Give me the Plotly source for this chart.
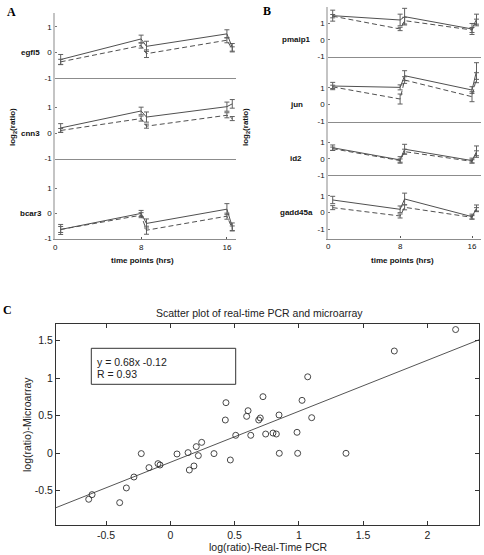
import plotly.graph_objects as go

W, H = 484, 555

# ---------------- data: panels A and B (time courses) ----------------
times = [0.5, 8, 8.5, 16, 16.5]
time_ticks = [0, 8, 16]
time_tick_text = ["0", "8", "16"]
ratio_ticks = [-1, 0, 1]
ratio_tick_text = ["-1", "0", "1"]

genes_A = ["egfl5", "cnn3", "bcar3"]
genes_B = ["pmaip1", "jun", "id2", "gadd45a"]

egfl5_solid = [-0.28, 0.53, 0.24, 0.73, 0.20]
egfl5_solid_err = [0.20, 0.15, 0.20, 0.16, 0.15]
egfl5_dash = [-0.37, 0.27, -0.05, 0.48, 0.12]
egfl5_dash_err = [0.10, 0.10, 0.15, 0.10, 0.10]

cnn3_solid = [0.20, 0.87, 0.63, 1.04, 1.15]
cnn3_solid_err = [0.17, 0.15, 0.20, 0.18, 0.17]
cnn3_dash = [0.10, 0.57, 0.27, 0.70, 0.57]
cnn3_dash_err = [0.08, 0.10, 0.08, 0.10, 0.08]

bcar3_solid = [-0.64, 0.00, -0.40, 0.17, -0.53]
bcar3_solid_err = [0.20, 0.12, 0.18, 0.22, 0.15]
bcar3_dash = [-0.64, -0.07, -0.67, -0.11, -0.60]
bcar3_dash_err = [0.12, 0.10, 0.16, 0.12, 0.10]

pmaip1_solid = [1.46, 1.20, 1.40, 0.66, 1.25]
pmaip1_solid_err = [0.33, 0.35, 0.50, 0.33, 0.30]
pmaip1_dash = [1.43, 0.66, 1.16, 0.60, 1.05]
pmaip1_dash_err = [0.10, 0.10, 0.20, 0.15, 0.20]

jun_solid = [1.10, 1.02, 1.72, 0.86, 2.00]
jun_solid_err = [0.22, 0.15, 0.30, 0.20, 0.50]
jun_dash = [1.05, 0.32, 1.46, 0.46, 1.60]
jun_dash_err = [0.10, 0.30, 0.20, 0.30, 0.30]

id2_solid = [0.69, -0.06, 0.60, -0.10, 0.45]
id2_solid_err = [0.17, 0.20, 0.30, 0.15, 0.35]
id2_dash = [0.63, -0.10, 0.45, -0.15, 0.35]
id2_dash_err = [0.10, 0.10, 0.15, 0.10, 0.15]

gadd45a_solid = [0.76, 0.20, 0.82, -0.24, 0.26]
gadd45a_solid_err = [0.22, 0.20, 0.35, 0.15, 0.20]
gadd45a_dash = [0.30, -0.20, 0.32, -0.28, 0.20]
gadd45a_dash_err = [0.12, 0.12, 0.15, 0.10, 0.10]

# ---------------- data: panel C (scatter) ----------------
pcr_x = [2.22, 1.743, 1.069, 0.433, 0.721, 1.025, 0.605, 0.428, 0.594, 0.688,
         0.70, 0.846, 1.10, 0.509, 0.626, 0.742, 0.799, 0.825, 0.986, 0.244,
         0.202, 0.138, 0.052, 0.218, 0.34, -0.226, 0.848, 0.991, 1.367, 0.467,
         -0.096, -0.08, -0.166, 0.148, 0.184, -0.283, -0.342, -0.609, -0.635, -0.394]
array_y = [1.65, 1.364, 1.02, 0.675, 0.755, 0.706, 0.568, 0.444, 0.493, 0.444,
           0.471, 0.511, 0.475, 0.24, 0.24, 0.257, 0.27, 0.257, 0.28, 0.146,
           0.089, 0.009, -0.009, -0.031, -0.004, -0.004, 0.0, 0.0, 0.0, -0.089,
           -0.138, -0.156, -0.191, -0.223, -0.169, -0.316, -0.462, -0.551, -0.613, -0.658]
fit_slope = 0.68
fit_intercept = -0.12
fit_r = 0.93
c_x_ticks = [-0.5, 0, 0.5, 1, 1.5, 2]
c_x_tick_text = ["-0.5", "0", "0.5", "1", "1.5", "2"]
c_y_ticks = [-0.5, 0, 0.5, 1, 1.5]
c_y_tick_text = ["-0.5", "0", "0.5", "1", "1.5"]

series = {
    "egfl5": (egfl5_solid, egfl5_solid_err, egfl5_dash, egfl5_dash_err),
    "cnn3": (cnn3_solid, cnn3_solid_err, cnn3_dash, cnn3_dash_err),
    "bcar3": (bcar3_solid, bcar3_solid_err, bcar3_dash, bcar3_dash_err),
    "pmaip1": (pmaip1_solid, pmaip1_solid_err, pmaip1_dash, pmaip1_dash_err),
    "jun": (jun_solid, jun_solid_err, jun_dash, jun_dash_err),
    "id2": (id2_solid, id2_solid_err, id2_dash, id2_dash_err),
    "gadd45a": (gadd45a_solid, gadd45a_solid_err, gadd45a_dash, gadd45a_dash_err),
}

# ---------------- layout helpers (pixel -> paper) ----------------
def px(x):
    return x / W

def py(y):
    return 1 - y / H

SANS = "Liberation Sans, Arial, Helvetica, sans-serif"
SERIF = "Liberation Serif, Times New Roman, serif"
LINE_C = "#505050"
ERR_C = "#606060"

# subplot geometry: (gene, x-domain px, y-domain px (top,bottom), y-range)
panelA_x = (55.3, 235.5, [0, 16.8])
panelB_x = (328.2, 481.0, [0, 17.0])
subplots = [
    ("egfl5", panelA_x, (13.0, 78.0), [-1.005, 1.55]),
    ("cnn3", panelA_x, (78.0, 158.5), [-1.005, 2.17]),
    ("bcar3", panelA_x, (158.5, 239.0), [-1.02, 2.19]),
    ("pmaip1", panelB_x, (7.0, 56.7), [-1.005, 1.98]),
    ("jun", panelB_x, (56.7, 121.7), [-1.04, 2.86]),
    ("id2", panelB_x, (121.7, 175.3), [-1.005, 2.29]),
    ("gadd45a", panelB_x, (175.3, 238.5), [-1.55, 2.24]),
]
bottom_genes = {"bcar3", "gadd45a"}

fig = go.Figure()
layout = {}
annotations = []

for i, (gene, (x0, x1, xr), (ytop, ybot), yr) in enumerate(subplots, start=1):
    xa = "x" if i == 1 else f"x{i}"
    ya = "y" if i == 1 else f"y{i}"
    solid, solid_err, dash, dash_err = series[gene]
    fig.add_trace(go.Scatter(
        x=times, y=solid, xaxis=xa, yaxis=ya, mode="lines",
        line=dict(color=LINE_C, width=1),
        error_y=dict(type="data", array=solid_err, visible=True,
                     color=ERR_C, thickness=1, width=2.5),
        showlegend=False, hoverinfo="skip"))
    fig.add_trace(go.Scatter(
        x=times, y=dash, xaxis=xa, yaxis=ya, mode="lines",
        line=dict(color=LINE_C, width=1, dash="5px,3px"),
        error_y=dict(type="data", array=dash_err, visible=True,
                     color=ERR_C, thickness=1, width=2.5),
        showlegend=False, hoverinfo="skip"))
    is_bottom = gene in bottom_genes
    xaxis = dict(
        domain=[px(x0), px(x1)], range=xr, anchor=ya, automargin=False,
        showline=True, linecolor="#8c8c8c", linewidth=1.3,
        showgrid=False, zeroline=False,
        tickfont=dict(family=SANS, size=8, color="#111"),
    )
    if is_bottom:
        xaxis.update(tickvals=time_ticks, ticktext=time_tick_text,
                     ticks="inside", ticklen=2, tickcolor="#555",
                     showticklabels=True)
    else:
        xaxis.update(showticklabels=False, ticks="")
    layout["xaxis" if i == 1 else f"xaxis{i}"] = xaxis
    layout["yaxis" if i == 1 else f"yaxis{i}"] = dict(
        domain=[py(ybot), py(ytop)], range=yr, anchor=xa, automargin=False,
        showline=True, linecolor="#c4c4c4", linewidth=2,
        showgrid=False, zeroline=False,
        tickvals=ratio_ticks, ticktext=ratio_tick_text,
        ticks="inside", ticklen=2, tickcolor="#777",
        tickfont=dict(family=SANS, size=8, color="#111"),
    )
    # gene label at the zero level
    y_zero = py(ybot) + (0 - yr[0]) / (yr[1] - yr[0]) * (py(ytop) - py(ybot))
    lab_x = 30.5 if x0 < 200 else 296
    annotations.append(dict(
        x=px(lab_x), y=y_zero, xref="paper", yref="paper", text=f"<b>{gene}</b>",
        showarrow=False, xanchor="center", yanchor="middle",
        font=dict(family=SANS, size=8, color="#111")))

# ---------------- panel C ----------------
cx = "x8"
cy = "y8"
c_xr = [-0.8895, 2.402]
c_yr = [-0.956, 1.724]
fig.add_trace(go.Scatter(
    x=c_xr, y=[fit_slope * v + fit_intercept for v in c_xr],
    xaxis=cx, yaxis=cy, mode="lines",
    line=dict(color="#555", width=1), showlegend=False, hoverinfo="skip"))
fig.add_trace(go.Scatter(
    x=pcr_x, y=array_y, xaxis=cx, yaxis=cy, mode="markers",
    marker=dict(symbol="circle-open", size=6, color="#333",
                line=dict(width=0.9, color="#333")),
    showlegend=False, hoverinfo="skip"))
layout["xaxis8"] = dict(
    domain=[px(56), px(479)], range=c_xr, anchor=cy, automargin=False,
    showline=True, mirror="ticks", linecolor="#333", linewidth=1,
    ticks="inside", ticklen=4, tickcolor="#333",
    tickvals=c_x_ticks, ticktext=c_x_tick_text,
    showgrid=False, zeroline=False,
    tickfont=dict(family=SANS, size=10.5, color="#222"))
layout["yaxis8"] = dict(
    domain=[py(525), py(324)], range=c_yr, anchor=cx, automargin=False,
    showline=True, mirror="ticks", linecolor="#333", linewidth=1,
    ticks="inside", ticklen=4, tickcolor="#333",
    tickvals=c_y_ticks, ticktext=c_y_tick_text,
    showgrid=False, zeroline=False,
    tickfont=dict(family=SANS, size=10.5, color="#222"))

# text box
shapes = [dict(type="rect", xref="paper", yref="paper",
               x0=px(91.3), x1=px(235.7), y0=py(384.3), y1=py(348.3),
               line=dict(color="#333", width=1), fillcolor="white", layer="above")]
annotations += [
    dict(x=px(95), y=py(361.5), xref="paper", yref="paper",
         text=f"y = {fit_slope}x {fit_intercept}", showarrow=False,
         xanchor="left", yanchor="middle",
         font=dict(family=SANS, size=10.5, color="#222")),
    dict(x=px(95), y=py(373.5), xref="paper", yref="paper",
         text=f"R = {fit_r}", showarrow=False,
         xanchor="left", yanchor="middle",
         font=dict(family=SANS, size=10.5, color="#222")),
    dict(x=px(259), y=py(313), xref="paper", yref="paper",
         text="Scatter plot of real-time PCR and microarray", showarrow=False,
         xanchor="center", yanchor="middle",
         font=dict(family=SANS, size=10.5, color="#222")),
    dict(x=px(268), y=py(546.5), xref="paper", yref="paper",
         text="log(ratio)-Real-Time PCR", showarrow=False,
         xanchor="center", yanchor="middle",
         font=dict(family=SANS, size=10.5, color="#222")),
    dict(x=px(26.5), y=py(424.5), xref="paper", yref="paper",
         text="log(ratio)-Microarray", showarrow=False, textangle=-90,
         xanchor="center", yanchor="middle",
         font=dict(family=SANS, size=10.5, color="#222")),
    # panels A/B titles
    dict(x=px(142.7), y=py(260.5), xref="paper", yref="paper",
         text="<b>time points (hrs)</b>", showarrow=False,
         xanchor="center", yanchor="middle",
         font=dict(family=SANS, size=8, color="#111")),
    dict(x=px(402.7), y=py(260.5), xref="paper", yref="paper",
         text="<b>time points (hrs)</b>", showarrow=False,
         xanchor="center", yanchor="middle",
         font=dict(family=SANS, size=8, color="#111")),
    dict(x=px(13), y=py(127), xref="paper", yref="paper",
         text="<b>log<sub>2</sub>(ratio)</b>", showarrow=False, textangle=-90,
         xanchor="center", yanchor="middle",
         font=dict(family=SANS, size=8, color="#111")),
    dict(x=px(246), y=py(127), xref="paper", yref="paper",
         text="<b>log<sub>2</sub>(ratio)</b>", showarrow=False, textangle=-90,
         xanchor="center", yanchor="middle",
         font=dict(family=SANS, size=8, color="#111")),
    # panel letters
    dict(x=px(11.7), y=py(11.7), xref="paper", yref="paper", text="<b>A</b>",
         showarrow=False, xanchor="center", yanchor="middle",
         font=dict(family=SERIF, size=12, color="#000")),
    dict(x=px(266.7), y=py(10.5), xref="paper", yref="paper", text="<b>B</b>",
         showarrow=False, xanchor="center", yanchor="middle",
         font=dict(family=SERIF, size=12, color="#000")),
    dict(x=px(7), y=py(310), xref="paper", yref="paper", text="<b>C</b>",
         showarrow=False, xanchor="center", yanchor="middle",
         font=dict(family=SERIF, size=12, color="#000")),
]

fig.update_layout(
    width=W, height=H,
    margin=dict(l=0, r=0, t=0, b=0, autoexpand=False),
    paper_bgcolor="white", plot_bgcolor="white",
    showlegend=False,
    annotations=annotations,
    shapes=shapes,
    **layout,
)

fig.write_html(
    "out.html",
    config={"displayModeBar": False},
    post_script="document.body.style.margin='0px';document.body.style.padding='0px';"
                "document.documentElement.style.overflow='hidden';",
)
